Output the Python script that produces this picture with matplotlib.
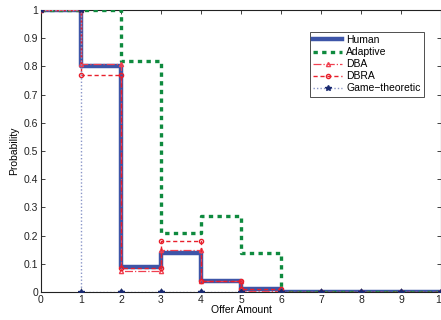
import numpy as np
import matplotlib.pyplot as plt

plt.rcParams['font.family'] = ['Liberation Sans', 'DejaVu Sans']

offers = [0, 1, 2, 3, 4, 5, 6, 7, 8, 9, 10]
human = [1.0, 0.80, 0.09, 0.14, 0.04, 0.01, 0.0, 0.0, 0.0, 0.0, 0.0]
adaptive = [1.0, 1.0, 0.82, 0.21, 0.27, 0.14, 0.0, 0.0, 0.0, 0.0, 0.0]
dba = [1.0, 0.81, 0.075, 0.15, 0.04, 0.005, 0.0, 0.0, 0.0, 0.0, 0.0]
dbra = [1.0, 0.77, 0.085, 0.18, 0.04, 0.01, 0.0, 0.0, 0.0, 0.0, 0.0]
game = [1.0, 0.0, 0.0, 0.0, 0.0, 0.0, 0.0, 0.0, 0.0, 0.0, 0.0]


def stairs(x, y):
    # staircase vertices, like matlab's stairs (markers end up on every corner)
    x = np.asarray(x, dtype=float)
    y = np.asarray(y, dtype=float)
    xx = np.repeat(x, 2)[1:]
    yy = np.repeat(y, 2)[:-1]
    return xx, yy


fig = plt.figure(figsize=(4.41, 3.2), dpi=100)
ax = fig.add_axes([41 / 441, 28 / 320, 400 / 441, 282 / 320])

ax.plot(*stairs(offers, human), color='#3d55a8', lw=3.2, label='Human', zorder=2)
ax.plot(*stairs(offers, adaptive), color='#0e8a3e', lw=2.4, ls=(0, (1.3, 1.3)),
        label='Adaptive', zorder=3)
ax.plot(*stairs(offers, dba), color='#f04050', lw=0.9, ls='-.', marker='^',
        ms=3, mfc='none', label='DBA', zorder=4)
ax.plot(*stairs(offers, dbra), color='#e8202c', lw=1.0, ls=(0, (3, 2)), marker='o',
        ms=3, mfc='none', label='DBRA', zorder=5)
ax.plot(*stairs(offers, game), color='#8a96c8', lw=1.0, ls=(0, (1, 1.5)),
        marker='*', ms=4, mfc='#1a2a70', mec='#1a2a70', label='Game\u2212theoretic',
        zorder=6)

ax.set_xlim(0, 10)
ax.set_ylim(0, 1)
ax.set_xticks(range(0, 11))
ax.set_yticks(np.arange(0, 1.01, 0.1))
ax.set_yticklabels(['0', '0.1', '0.2', '0.3', '0.4', '0.5', '0.6', '0.7', '0.8', '0.9', '1'])
ax.tick_params(direction='in', length=3, width=0.6, labelsize=7.5, top=True, right=True,
               pad=2, colors='#222222')
for s in ax.spines.values():
    s.set_linewidth(0.8)
    s.set_color('#222222')

ax.set_xlabel('Offer Amount', fontsize=7.5, labelpad=0)
ax.set_ylabel('Probability', fontsize=7.5, labelpad=3)

leg = ax.legend(loc='upper left', bbox_to_anchor=(0.672, 0.922), fontsize=7.5,
                frameon=True, fancybox=False, handlelength=2.8, borderpad=0.3,
                labelspacing=0.2, handletextpad=0.4, borderaxespad=0)
leg.get_frame().set_edgecolor('#222222')
leg.get_frame().set_linewidth(0.7)

fig.savefig('out.png', dpi=100)
